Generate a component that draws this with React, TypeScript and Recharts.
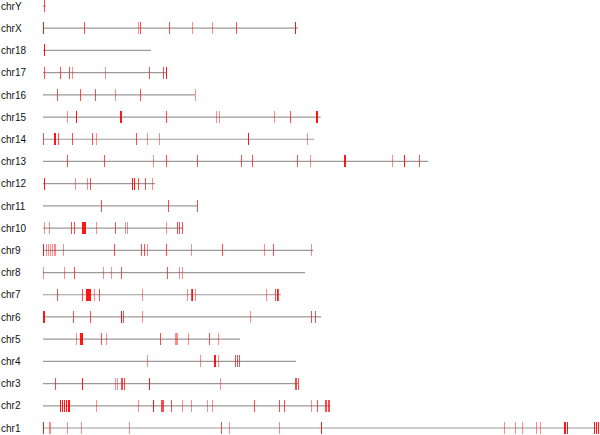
import { ReferenceLine, Scatter, ScatterChart, XAxis, YAxis } from "recharts";

// rows from bottom (chr1) to top (chrY)
const CHROMS = [
  "chr1", "chr2", "chr3", "chr4", "chr5", "chr6", "chr7", "chr8", "chr9", "chr10",
  "chr11", "chr12", "chr13", "chr14", "chr15", "chr16", "chr17", "chr18", "chrX", "chrY",
];

// drawn length of each chromosome line (same units as the hit positions)
const LENGTHS = [555, 287, 255, 253, 197, 278, 238, 262, 270.3, 140, 154.3, 112, 385, 271.3, 277.7, 152, 123, 108, 255, 3];

// [position, overlapping hits]
const chr1: [number, number][] = [[0.3, 4], [5.7, 1], [7, 1], [24, 1], [37.7, 1], [86, 1], [177.7, 2], [186.3, 1], [235.7, 1], [278.3, 4], [460.7, 1], [472.3, 1], [478.7, 1], [492.7, 1], [496.7, 1], [520.5, 4], [522, 4], [523.5, 4], [551, 4], [553, 4], [555, 4]];
const chr2: [number, number][] = [[17.3, 4], [19.3, 4], [21.3, 4], [23.3, 4], [24.7, 4], [26.3, 4], [52.7, 1], [94.7, 1], [110, 4], [117.7, 2], [119, 2], [120.3, 2], [128, 2], [139, 1], [148.3, 1], [163.7, 1], [169.3, 1], [211.3, 2], [236.3, 2], [241, 2], [268, 1], [274, 2], [281.5, 2], [283, 2], [284.5, 2], [286, 2]];
const chr3: [number, number][] = [[12, 2], [39.3, 4], [71.7, 1], [74.3, 1], [77.5, 2], [79, 2], [80.5, 2], [105.7, 4], [177, 1], [251.5, 2], [253, 2], [254.5, 2]];
const chr4: [number, number][] = [[104, 1], [157, 1], [170.5, 4], [172, 4], [175, 1], [192.3, 2], [194, 2], [195.7, 2]];
const chr5: [number, number][] = [[32.7, 1], [37.3, 4], [38.3, 4], [39.3, 4], [58.3, 2], [62.7, 1], [117, 2], [132, 1], [133, 1], [134, 1], [145.3, 1], [166.3, 2], [175, 1]];
const chr6: [number, number][] = [[0.3, 4], [1, 4], [30, 2], [46.7, 2], [78.3, 4], [79.7, 2], [98.7, 1], [207, 1], [268.3, 2], [272, 2]];
const chr7: [number, number][] = [[13.7, 2], [39.3, 2], [43, 4], [44, 4], [45, 4], [46, 4], [47, 4], [50.7, 1], [56.3, 2], [99, 1], [144.3, 1], [148.3, 2], [149.3, 4], [151.7, 1], [223, 1], [232, 2], [233.7, 4], [235.3, 2]];
const chr8: [number, number][] = [[0.3, 1], [21.3, 1], [30.7, 2], [60, 1], [68, 1], [78.3, 2], [124.3, 2], [136, 1], [138.7, 1]];
const chr9: [number, number][] = [[0.3, 4], [3, 1], [5, 1], [7, 1], [9, 1], [11, 1], [12, 1], [19.7, 1], [70.7, 2], [98.3, 2], [101, 2], [103.7, 1], [122.7, 2], [148.3, 1], [178.7, 2], [221.3, 1], [229.7, 2], [267.7, 1]];
const chr10: [number, number][] = [[1.3, 1], [6.3, 1], [27.7, 2], [31, 2], [38.5, 4], [39.5, 4], [40.5, 4], [41.5, 4], [52.7, 1], [71.7, 2], [82.3, 1], [84.3, 1], [122.7, 1], [133.7, 2], [136, 2], [139, 2]];
const chr11: [number, number][] = [[58.3, 2], [124.7, 2], [154.3, 2]];
const chr12: [number, number][] = [[1.3, 4], [31.7, 1], [44, 1], [47, 2], [89, 4], [90.5, 4], [94.7, 2], [102.3, 2], [109.3, 1]];
const chr13: [number, number][] = [[23.7, 2], [60.7, 2], [110, 1], [122.7, 2], [154.3, 2], [197.7, 2], [208.7, 2], [253.7, 2], [267.3, 1], [301, 4], [302, 4], [349, 1], [361, 4], [376.3, 2]];
const chr14: [number, number][] = [[0.3, 2], [11, 4], [12, 4], [14.7, 2], [28.7, 2], [49.3, 2], [53, 1], [92.7, 2], [104, 1], [116, 1], [205, 4], [264.3, 1]];
const chr15: [number, number][] = [[23.7, 1], [33, 4], [76.5, 4], [77.5, 4], [122.7, 2], [172.7, 1], [176.3, 1], [230.7, 1], [247.3, 2], [273, 4], [274, 4]];
const chr16: [number, number][] = [[13.7, 2], [37, 2], [51.7, 2], [72, 1], [96.7, 2], [152, 1]];
const chr17: [number, number][] = [[1.3, 2], [17, 2], [25.7, 2], [28.7, 1], [62.3, 1], [105.7, 2], [119.7, 2], [122.7, 4]];
const chr18: [number, number][] = [[0.5, 4]];
const chrX: [number, number][] = [[0.3, 4], [41.3, 2], [94.7, 1], [97.3, 2], [125.7, 2], [149.3, 1], [169.3, 1], [193.3, 2], [251.7, 4]];
const chrY: [number, number][] = [[1, 2]];

const HITS = [chr1, chr2, chr3, chr4, chr5, chr6, chr7, chr8, chr9, chr10, chr11, chr12, chr13, chr14, chr15, chr16, chr17, chr18, chrX, chrY];

const points = HITS.flatMap((hits, row) => hits.map(([x, n]) => ({ x, y: row, n })));
const rows = CHROMS.map((_, i) => i);

const HitMark = (props: any) => {
  const { cx, cy, payload } = props;
  if (cx == null || cy == null) return null;
  const x = Math.round(cx) + 0.5;
  return (
    <line
      x1={x}
      x2={x}
      y1={Math.round(cy) - 6}
      y2={Math.round(cy) + 6}
      stroke="#ff0000"
      strokeWidth={1}
      strokeOpacity={1 - Math.pow(0.55, payload.n)}
      shapeRendering="crispEdges"
    />
  );
};

const ChromTick = (props: any) => {
  const { y, payload } = props;
  return (
    <text x={1} y={y} dy={3.7} fontSize={10} fontFamily="'Liberation Sans', Arial, sans-serif" fill="#111" textAnchor="start">
      {CHROMS[payload.value]}
    </text>
  );
};

export default function App() {
  return (
    <div style={{ position: "absolute", left: 0, top: 0, background: "#fff" }}>
      <ScatterChart width={600} height={435} margin={{ top: 6, right: 0, bottom: 7, left: 0 }}>
        <XAxis type="number" dataKey="x" domain={[0, 557]} hide />
        <YAxis
          type="number"
          dataKey="y"
          domain={[0, 19]}
          ticks={rows}
          interval={0}
          width={43}
          axisLine={false}
          tickLine={false}
          tick={<ChromTick />}
        />
        {LENGTHS.map((len, i) => (
          <ReferenceLine
            key={CHROMS[i]}
            segment={[{ x: 0, y: i }, { x: len, y: i }]}
            stroke="#9a9a9a"
            strokeWidth={1.2}
            ifOverflow="visible"
          />
        ))}
        <Scatter data={points} shape={<HitMark />} isAnimationActive={false} />
      </ScatterChart>
    </div>
  );
}
